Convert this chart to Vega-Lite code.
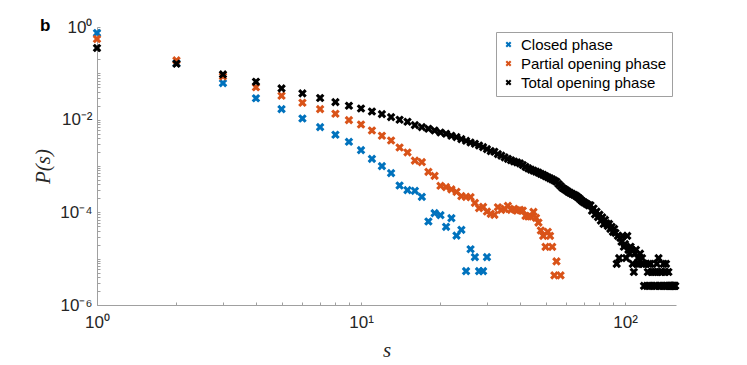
{
  "$schema": "https://vega.github.io/schema/vega-lite/v6.json",
  "width": 579,
  "height": 278,
  "autosize": {"type": "none"},
  "padding": {"left": 97, "top": 27, "right": 71, "bottom": 60},
  "background": "white",
  "title": {"text": "b", "anchor": "start", "frame": "group", "dx": -57, "dy": 30, "offset": 0, "baseline": "alphabetic", "fontSize": 17, "fontWeight": "bold", "font": "Liberation Sans", "color": "black"},
  "config": {"view": {"stroke": null}},
  "data": {"values": [
    {"s":1,"p":0.742,"phase":"Closed phase"},{"s":2,"p":0.165,"phase":"Closed phase"},{"s":3,"p":0.0617,"phase":"Closed phase"},{"s":4,"p":0.029,"phase":"Closed phase"},{"s":5,"p":0.01694,"phase":"Closed phase"},{"s":6,"p":0.0106,"phase":"Closed phase"},{"s":7,"p":0.00692,"phase":"Closed phase"},{"s":8,"p":0.00472,"phase":"Closed phase"},{"s":9,"p":0.00333,"phase":"Closed phase"},{"s":10,"p":0.0022,"phase":"Closed phase"},{"s":11,"p":0.00143,"phase":"Closed phase"},{"s":12,"p":0.000995,"phase":"Closed phase"},{"s":13,"p":0.000703,"phase":"Closed phase"},{"s":14,"p":0.000379,"phase":"Closed phase"},{"s":15,"p":0.000302,"phase":"Closed phase"},{"s":16,"p":0.000291,"phase":"Closed phase"},{"s":17,"p":0.000216,"phase":"Closed phase"},{"s":18,"p":6.33e-5,"phase":"Closed phase"},{"s":19,"p":9.61e-5,"phase":"Closed phase"},{"s":20,"p":8.7e-5,"phase":"Closed phase"},{"s":21,"p":4.86e-5,"phase":"Closed phase"},{"s":22,"p":7.49e-5,"phase":"Closed phase"},{"s":23,"p":3.15e-5,"phase":"Closed phase"},{"s":24,"p":4.19e-5,"phase":"Closed phase"},{"s":25,"p":5.37e-6,"phase":"Closed phase"},{"s":26,"p":1.6e-5,"phase":"Closed phase"},{"s":27,"p":1.08e-5,"phase":"Closed phase"},{"s":28,"p":5.37e-6,"phase":"Closed phase"},{"s":29,"p":5.37e-6,"phase":"Closed phase"},{"s":30,"p":1.08e-5,"phase":"Closed phase"},
    {"s":1,"p":0.551,"phase":"Partial opening phase"},{"s":2,"p":0.19,"phase":"Partial opening phase"},{"s":3,"p":0.0857,"phase":"Partial opening phase"},{"s":4,"p":0.0501,"phase":"Partial opening phase"},{"s":5,"p":0.0328,"phase":"Partial opening phase"},{"s":6,"p":0.0232,"phase":"Partial opening phase"},{"s":7,"p":0.01694,"phase":"Partial opening phase"},{"s":8,"p":0.01341,"phase":"Partial opening phase"},{"s":9,"p":0.0098,"phase":"Partial opening phase"},{"s":10,"p":0.00788,"phase":"Partial opening phase"},{"s":11,"p":0.00584,"phase":"Partial opening phase"},{"s":12,"p":0.00449,"phase":"Partial opening phase"},{"s":13,"p":0.00355,"phase":"Partial opening phase"},{"s":14,"p":0.00251,"phase":"Partial opening phase"},{"s":15,"p":0.00196,"phase":"Partial opening phase"},{"s":16,"p":0.00131,"phase":"Partial opening phase"},{"s":17,"p":0.00121,"phase":"Partial opening phase"},{"s":18,"p":0.000749,"phase":"Partial opening phase"},{"s":19,"p":0.000614,"phase":"Partial opening phase"},{"s":20,"p":0.000374,"phase":"Partial opening phase"},{"s":21,"p":0.00035,"phase":"Partial opening phase"},{"s":22,"p":0.000314,"phase":"Partial opening phase"},{"s":23,"p":0.000277,"phase":"Partial opening phase"},{"s":24,"p":0.000224,"phase":"Partial opening phase"},{"s":25,"p":0.000216,"phase":"Partial opening phase"},{"s":26,"p":0.000213,"phase":"Partial opening phase"},{"s":27,"p":0.00016,"phase":"Partial opening phase"},{"s":28,"p":0.000123,"phase":"Partial opening phase"},{"s":29,"p":0.000131,"phase":"Partial opening phase"},{"s":30,"p":0.000104,"phase":"Partial opening phase"},{"s":31,"p":9.28e-5,"phase":"Partial opening phase"},{"s":32,"p":8.83e-5,"phase":"Partial opening phase"},{"s":33,"p":0.000129,"phase":"Partial opening phase"},{"s":34,"p":0.000113,"phase":"Partial opening phase"},{"s":35,"p":0.000119,"phase":"Partial opening phase"},{"s":36,"p":0.000138,"phase":"Partial opening phase"},{"s":37,"p":0.000113,"phase":"Partial opening phase"},{"s":38,"p":0.000119,"phase":"Partial opening phase"},{"s":39,"p":0.000109,"phase":"Partial opening phase"},{"s":40,"p":0.000113,"phase":"Partial opening phase"},{"s":41,"p":0.000109,"phase":"Partial opening phase"},{"s":42,"p":8.4e-5,"phase":"Partial opening phase"},{"s":43,"p":8.12e-5,"phase":"Partial opening phase"},{"s":44,"p":8.12e-5,"phase":"Partial opening phase"},{"s":45,"p":0.000102,"phase":"Partial opening phase"},{"s":46,"p":7.61e-5,"phase":"Partial opening phase"},{"s":47,"p":6.02e-5,"phase":"Partial opening phase"},{"s":48,"p":4.05e-5,"phase":"Partial opening phase"},{"s":49,"p":3.11e-5,"phase":"Partial opening phase"},{"s":50,"p":1.8e-5,"phase":"Partial opening phase"},{"s":51,"p":3.79e-5,"phase":"Partial opening phase"},{"s":52,"p":3.11e-5,"phase":"Partial opening phase"},{"s":53,"p":1.8e-5,"phase":"Partial opening phase"},{"s":54,"p":4.36e-6,"phase":"Partial opening phase"},{"s":55,"p":8.74e-6,"phase":"Partial opening phase"},{"s":57,"p":4.36e-6,"phase":"Partial opening phase"},
    {"s":1,"p":0.352,"phase":"Total opening phase"},{"s":2,"p":0.161,"phase":"Total opening phase"},{"s":3,"p":0.0947,"phase":"Total opening phase"},{"s":4,"p":0.0659,"phase":"Total opening phase"},{"s":5,"p":0.0472,"phase":"Total opening phase"},{"s":6,"p":0.0368,"phase":"Total opening phase"},{"s":7,"p":0.0293,"phase":"Total opening phase"},{"s":8,"p":0.024,"phase":"Total opening phase"},{"s":9,"p":0.02,"phase":"Total opening phase"},{"s":10,"p":0.01745,"phase":"Total opening phase"},{"s":11,"p":0.01503,"phase":"Total opening phase"},{"s":12,"p":0.01321,"phase":"Total opening phase"},{"s":13,"p":0.01138,"phase":"Total opening phase"},{"s":14,"p":0.00995,"phase":"Total opening phase"},{"s":15,"p":0.00901,"phase":"Total opening phase"},{"s":16,"p":0.00764,"phase":"Total opening phase"},{"s":17,"p":0.00692,"phase":"Total opening phase"},{"s":18,"p":0.00636,"phase":"Total opening phase"},{"s":19,"p":0.00584,"phase":"Total opening phase"},{"s":20,"p":0.00529,"phase":"Total opening phase"},{"s":21,"p":0.00496,"phase":"Total opening phase"},{"s":22,"p":0.00449,"phase":"Total opening phase"},{"s":23,"p":0.00421,"phase":"Total opening phase"},{"s":24,"p":0.00381,"phase":"Total opening phase"},{"s":25,"p":0.0035,"phase":"Total opening phase"},{"s":26,"p":0.00322,"phase":"Total opening phase"},{"s":27,"p":0.00302,"phase":"Total opening phase"},{"s":28,"p":0.00277,"phase":"Total opening phase"},{"s":29,"p":0.00256,"phase":"Total opening phase"},{"s":30,"p":0.00232,"phase":"Total opening phase"},{"s":31,"p":0.0021,"phase":"Total opening phase"},{"s":32,"p":0.00203,"phase":"Total opening phase"},{"s":33,"p":0.00181,"phase":"Total opening phase"},{"s":34,"p":0.00168,"phase":"Total opening phase"},{"s":35,"p":0.00154,"phase":"Total opening phase"},{"s":36,"p":0.00142,"phase":"Total opening phase"},{"s":37,"p":0.00133,"phase":"Total opening phase"},{"s":38,"p":0.00125,"phase":"Total opening phase"},{"s":39,"p":0.0012,"phase":"Total opening phase"},{"s":40,"p":0.00114,"phase":"Total opening phase"},{"s":41,"p":0.00105,"phase":"Total opening phase"},{"s":42,"p":0.000961,"phase":"Total opening phase"},{"s":43,"p":0.000888,"phase":"Total opening phase"},{"s":44,"p":0.000836,"phase":"Total opening phase"},{"s":45,"p":0.000795,"phase":"Total opening phase"},{"s":46,"p":0.000757,"phase":"Total opening phase"},{"s":47,"p":0.00072,"phase":"Total opening phase"},{"s":48,"p":0.000678,"phase":"Total opening phase"},{"s":49,"p":0.000642,"phase":"Total opening phase"},{"s":50,"p":0.000605,"phase":"Total opening phase"},{"s":51,"p":0.000573,"phase":"Total opening phase"},{"s":52,"p":0.000542,"phase":"Total opening phase"},{"s":53,"p":0.000514,"phase":"Total opening phase"},{"s":54,"p":0.000486,"phase":"Total opening phase"},{"s":55,"p":0.000458,"phase":"Total opening phase"},{"s":56,"p":0.000409,"phase":"Total opening phase"},{"s":57,"p":0.00037,"phase":"Total opening phase"},{"s":58,"p":0.000335,"phase":"Total opening phase"},{"s":59,"p":0.000315,"phase":"Total opening phase"},{"s":60,"p":0.000296,"phase":"Total opening phase"},{"s":61,"p":0.000277,"phase":"Total opening phase"},{"s":62,"p":0.000262,"phase":"Total opening phase"},{"s":63,"p":0.000251,"phase":"Total opening phase"},{"s":64,"p":0.00024,"phase":"Total opening phase"},{"s":65,"p":0.000229,"phase":"Total opening phase"},{"s":66,"p":0.000216,"phase":"Total opening phase"},{"s":67,"p":0.000201,"phase":"Total opening phase"},{"s":68,"p":0.000186,"phase":"Total opening phase"},{"s":69,"p":0.000173,"phase":"Total opening phase"},{"s":70,"p":0.000164,"phase":"Total opening phase"},{"s":71,"p":0.000156,"phase":"Total opening phase"},{"s":72,"p":0.000149,"phase":"Total opening phase"},{"s":73,"p":0.000141,"phase":"Total opening phase"},{"s":74,"p":0.000142,"phase":"Total opening phase"},{"s":75,"p":0.000108,"phase":"Total opening phase"},{"s":76,"p":0.000121,"phase":"Total opening phase"},{"s":77,"p":9.05e-5,"phase":"Total opening phase"},{"s":78,"p":0.000104,"phase":"Total opening phase"},{"s":79,"p":7.9e-5,"phase":"Total opening phase"},{"s":80,"p":8.9e-5,"phase":"Total opening phase"},{"s":81,"p":6.6e-5,"phase":"Total opening phase"},{"s":82,"p":7.8e-5,"phase":"Total opening phase"},{"s":83,"p":5.6e-5,"phase":"Total opening phase"},{"s":84,"p":6.9e-5,"phase":"Total opening phase"},{"s":85,"p":5.79e-5,"phase":"Total opening phase"},{"s":86,"p":5.11e-5,"phase":"Total opening phase"},{"s":87,"p":5.64e-5,"phase":"Total opening phase"},{"s":88,"p":4.4e-5,"phase":"Total opening phase"},{"s":89,"p":4.86e-5,"phase":"Total opening phase"},{"s":90,"p":3.79e-5,"phase":"Total opening phase"},{"s":91,"p":4.4e-5,"phase":"Total opening phase"},{"s":92,"p":3.61e-5,"phase":"Total opening phase"},{"s":93,"p":7.74e-6,"phase":"Total opening phase"},{"s":94,"p":3.11e-5,"phase":"Total opening phase"},{"s":95,"p":1.03e-5,"phase":"Total opening phase"},{"s":96,"p":2.81e-5,"phase":"Total opening phase"},{"s":97,"p":2.32e-5,"phase":"Total opening phase"},{"s":98,"p":3.1e-5,"phase":"Total opening phase"},{"s":99,"p":1.81e-5,"phase":"Total opening phase"},{"s":100,"p":2.06e-5,"phase":"Total opening phase"},{"s":101,"p":1.03e-5,"phase":"Total opening phase"},{"s":102,"p":3.1e-5,"phase":"Total opening phase"},{"s":103,"p":1.55e-5,"phase":"Total opening phase"},{"s":104,"p":1.29e-5,"phase":"Total opening phase"},{"s":105,"p":1.81e-5,"phase":"Total opening phase"},{"s":106,"p":1.55e-5,"phase":"Total opening phase"},{"s":107,"p":7.74e-6,"phase":"Total opening phase"},{"s":108,"p":5.16e-6,"phase":"Total opening phase"},{"s":109,"p":1.29e-5,"phase":"Total opening phase"},{"s":110,"p":1.55e-5,"phase":"Total opening phase"},{"s":111,"p":7.74e-6,"phase":"Total opening phase"},{"s":112,"p":1.03e-5,"phase":"Total opening phase"},{"s":113,"p":7.74e-6,"phase":"Total opening phase"},{"s":114,"p":1.29e-5,"phase":"Total opening phase"},{"s":116,"p":1.03e-5,"phase":"Total opening phase"},{"s":117,"p":7.74e-6,"phase":"Total opening phase"},{"s":118,"p":2.58e-6,"phase":"Total opening phase"},{"s":120,"p":7.74e-6,"phase":"Total opening phase"},{"s":121,"p":2.58e-6,"phase":"Total opening phase"},{"s":122,"p":5.16e-6,"phase":"Total opening phase"},{"s":123,"p":7.74e-6,"phase":"Total opening phase"},{"s":124,"p":2.58e-6,"phase":"Total opening phase"},{"s":125,"p":7.74e-6,"phase":"Total opening phase"},{"s":126,"p":5.16e-6,"phase":"Total opening phase"},{"s":127,"p":2.58e-6,"phase":"Total opening phase"},{"s":128,"p":5.16e-6,"phase":"Total opening phase"},{"s":129,"p":2.58e-6,"phase":"Total opening phase"},{"s":130,"p":5.16e-6,"phase":"Total opening phase"},{"s":131,"p":2.58e-6,"phase":"Total opening phase"},{"s":132,"p":7.74e-6,"phase":"Total opening phase"},{"s":133,"p":5.16e-6,"phase":"Total opening phase"},{"s":134,"p":1.03e-5,"phase":"Total opening phase"},{"s":135,"p":2.58e-6,"phase":"Total opening phase"},{"s":136,"p":5.16e-6,"phase":"Total opening phase"},{"s":137,"p":2.58e-6,"phase":"Total opening phase"},{"s":138,"p":5.16e-6,"phase":"Total opening phase"},{"s":139,"p":2.58e-6,"phase":"Total opening phase"},{"s":140,"p":7.74e-6,"phase":"Total opening phase"},{"s":141,"p":2.58e-6,"phase":"Total opening phase"},{"s":142,"p":5.16e-6,"phase":"Total opening phase"},{"s":143,"p":7.74e-6,"phase":"Total opening phase"},{"s":144,"p":2.58e-6,"phase":"Total opening phase"},{"s":146,"p":5.16e-6,"phase":"Total opening phase"},{"s":147,"p":2.58e-6,"phase":"Total opening phase"},{"s":148,"p":2.58e-6,"phase":"Total opening phase"},{"s":149,"p":2.58e-6,"phase":"Total opening phase"},{"s":150,"p":2.58e-6,"phase":"Total opening phase"},{"s":151,"p":2.58e-6,"phase":"Total opening phase"},{"s":152,"p":2.58e-6,"phase":"Total opening phase"},{"s":153,"p":2.58e-6,"phase":"Total opening phase"},{"s":154,"p":2.58e-6,"phase":"Total opening phase"},{"s":155,"p":2.58e-6,"phase":"Total opening phase"}
  ]},
  "mark": {"type": "point", "filled": true, "opacity": 1, "size": 75, "strokeWidth": 0,
    "shape": "M-1,-0.5L-0.5,-1L0,-0.5L0.5,-1L1,-0.5L0.5,0L1,0.5L0.5,1L0,0.5L-0.5,1L-1,0.5L-0.5,0Z"},
  "encoding": {
    "x": {"field": "s", "type": "quantitative",
      "scale": {"type": "log", "domain": [1, 156], "nice": false},
      "axis": {"values": [1,2,3,4,5,6,7,8,9,10,20,30,40,50,60,70,80,90,100],
        "labelExpr": "datum.value == 1 ? '10⁰' : datum.value == 10 ? '10¹' : datum.value == 100 ? '10²' : ''",
        "tickSize": -3, "labelPadding": 12, "labelFlush": false, "labelOverlap": false,
        "labelFont": "Liberation Sans", "labelFontSize": 17, "labelColor": "#262626",
        "domainColor": "#a0a0a0", "tickColor": "#a0a0a0", "grid": false,
        "title": "s", "titleFont": "Liberation Serif", "titleFontStyle": "italic", "titleFontWeight": "normal", "titleFontSize": 21, "titleColor": "#262626", "titlePadding": 9}},
    "y": {"field": "p", "type": "quantitative",
      "scale": {"type": "log", "domain": [0.000001, 1], "nice": false},
      "axis": {"values": [0.000001,0.000002,0.000003,0.000004,0.000005,0.000006,0.000007,0.000008,0.000009,0.00001,0.00002,0.00003,0.00004,0.00005,0.00006,0.00007,0.00008,0.00009,0.0001,0.0002,0.0003,0.0004,0.0005,0.0006,0.0007,0.0008,0.0009,0.001,0.002,0.003,0.004,0.005,0.006,0.007,0.008,0.009,0.01,0.02,0.03,0.04,0.05,0.06,0.07,0.08,0.09,0.1,0.2,0.3,0.4,0.5,0.6,0.7,0.8,0.9,1],
        "labelExpr": "datum.value == 1 ? '10⁰' : datum.value == 0.01 ? '10⁻²' : datum.value == 0.0001 ? '10⁻⁴' : datum.value == 0.000001 ? '10⁻⁶' : ''",
        "tickSize": -3, "labelPadding": 8, "labelFlush": false, "labelOverlap": false,
        "labelFont": "Liberation Sans", "labelFontSize": 17, "labelColor": "#262626",
        "domainColor": "#a0a0a0", "tickColor": "#a0a0a0", "grid": false,
        "title": "P(s)", "titleFont": "Liberation Serif", "titleFontStyle": "italic", "titleFontWeight": "normal", "titleFontSize": 21, "titleColor": "#262626", "titlePadding": 6}},
    "color": {"field": "phase", "type": "nominal",
      "scale": {"domain": ["Closed phase", "Partial opening phase", "Total opening phase"], "range": ["#0072BD", "#D95319", "#000000"]},
      "legend": {"title": null, "orient": "none", "legendX": 399, "legendY": 5,
        "strokeColor": "#a0a0a0", "fillColor": "white", "padding": 5,
        "labelFont": "Liberation Sans", "labelFontSize": 15, "labelColor": "black", "labelOffset": 5,
        "symbolSize": 35, "rowPadding": 3, "symbolStrokeWidth": 0,
        "symbolType": "M-1,-0.5L-0.5,-1L0,-0.5L0.5,-1L1,-0.5L0.5,0L1,0.5L0.5,1L0,0.5L-0.5,1L-1,0.5L-0.5,0Z"}}
  }
}
